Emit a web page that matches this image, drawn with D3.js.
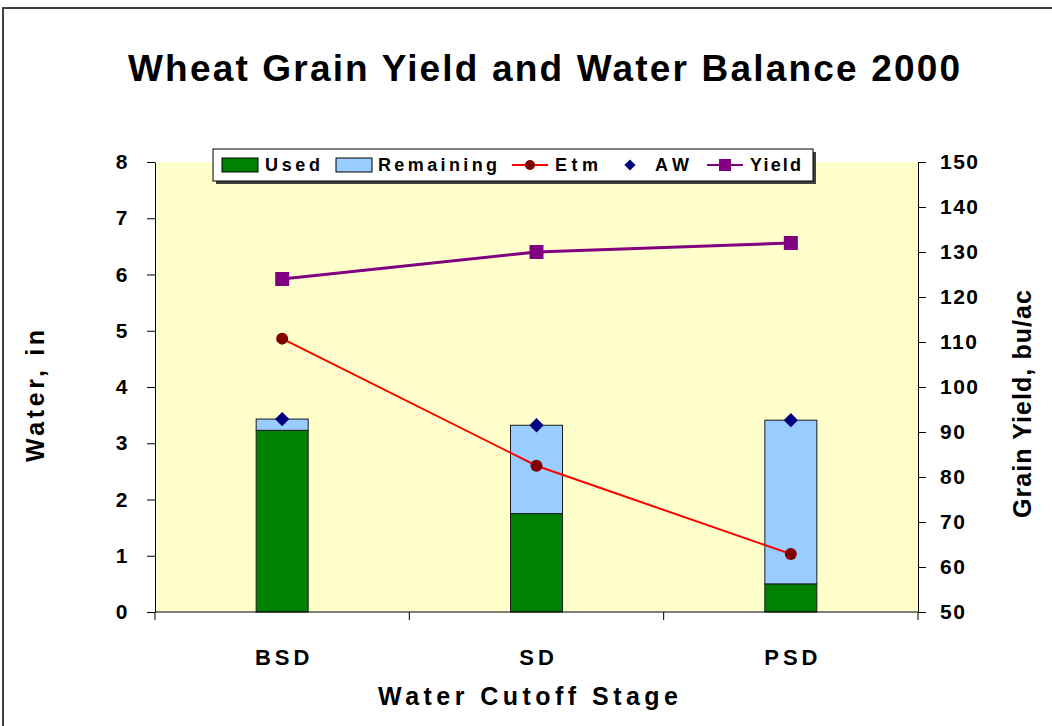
<!DOCTYPE html>
<html>
<head>
<meta charset="utf-8">
<script src="https://cdn.jsdelivr.net/npm/d3@7"></script>
<style>
  body { margin: 0; background: #fff; }
  svg { font-family: "Liberation Sans", Arial, sans-serif; font-weight: bold; }
</style>
</head>
<body>
<svg id="chart" width="1052" height="726"></svg>
<script>
// data
var stages = ["BSD", "SD", "PSD"];
var used = [3.23, 1.75, 0.50];
var remaining = [0.20, 1.57, 2.91];
var etm = [4.86, 2.60, 1.03];
var aw = [3.43, 3.32, 3.41];
var yieldBu = [124, 130, 132];
var waterTicks = [0, 1, 2, 3, 4, 5, 6, 7, 8];
var yieldTicks = [50, 60, 70, 80, 90, 100, 110, 120, 130, 140, 150];

var svg = d3.select("#chart");

var pLeft = 155, pRight = 918, pTop = 162, pBottom = 612;
var barW = 52;

var x = d3.scaleBand().domain(stages).range([pLeft, pRight]);
var yL = d3.scaleLinear().domain([0, 8]).range([pBottom, pTop]);
var yR = d3.scaleLinear().domain([50, 150]).range([pBottom, pTop]);
var cx = function(i) { return x(stages[i]) + x.bandwidth() / 2; };

// outer frame
svg.append("path")
  .attr("d", "M3,726 L3,8 L1052,8")
  .attr("fill", "none").attr("stroke", "#404040").attr("stroke-width", 2);

// title
svg.append("text")
  .attr("x", 544).attr("y", 81)
  .attr("text-anchor", "middle")
  .attr("font-size", 37)
  .attr("textLength", 832).attr("lengthAdjust", "spacing")
  .text("Wheat Grain Yield and Water Balance 2000");

// plot area
svg.append("rect")
  .attr("x", pLeft).attr("y", pTop)
  .attr("width", pRight - pLeft).attr("height", pBottom - pTop)
  .attr("fill", "#FFFFCC").attr("stroke", "none");

// stacked bars
var bars = svg.append("g");
bars.selectAll("rect.used").data(used).enter().append("rect")
  .attr("class", "used")
  .attr("x", function(d, i) { return cx(i) - barW / 2; })
  .attr("y", function(d) { return yL(d); })
  .attr("width", barW)
  .attr("height", function(d) { return yL(0) - yL(d); })
  .attr("fill", "#008000").attr("stroke", "#1a1a1a").attr("stroke-width", 1);
bars.selectAll("rect.rem").data(remaining).enter().append("rect")
  .attr("class", "rem")
  .attr("x", function(d, i) { return cx(i) - barW / 2; })
  .attr("y", function(d, i) { return yL(used[i] + d); })
  .attr("width", barW)
  .attr("height", function(d, i) { return yL(used[i]) - yL(used[i] + d); })
  .attr("fill", "#99CCFF").attr("stroke", "#1a1a1a").attr("stroke-width", 1);

// axes
var axL = svg.append("g").attr("transform", "translate(" + pLeft + ",0)")
  .call(d3.axisLeft(yL).tickValues(waterTicks).tickSize(8).tickPadding(18).tickSizeOuter(0));
var axR = svg.append("g").attr("transform", "translate(" + pRight + ",0)")
  .call(d3.axisRight(yR).tickValues(yieldTicks).tickSize(8).tickPadding(14).tickSizeOuter(0));
[axL, axR].forEach(function(a) {
  a.selectAll("text").attr("font-size", 21).attr("fill", "#000")
    .attr("font-family", "Liberation Sans, Arial, sans-serif").attr("font-weight", "bold")
    .attr("letter-spacing", "1.5px");
  a.selectAll("line").attr("stroke", "#000");
  a.select(".domain").attr("stroke", "#000");
});

// category axis: ticks at band edges, labels in the middle
var xg = svg.append("g");
xg.append("line").attr("x1", pLeft).attr("x2", pRight)
  .attr("y1", pBottom).attr("y2", pBottom).attr("stroke", "#000");
var edges = stages.map(function(s) { return x(s); }).concat([pRight]);
xg.selectAll("line.tk").data(edges).enter().append("line")
  .attr("class", "tk")
  .attr("x1", function(d) { return d; }).attr("x2", function(d) { return d; })
  .attr("y1", pBottom).attr("y2", pBottom + 8).attr("stroke", "#000");
xg.selectAll("text").data(stages).enter().append("text")
  .attr("x", function(d, i) { return cx(i) + 2; })
  .attr("y", 665)
  .attr("text-anchor", "middle")
  .attr("font-size", 22)
  .attr("letter-spacing", "4px")
  .text(function(d) { return d; });

// Etm line
var lineL = d3.line().x(function(d, i) { return cx(i); }).y(function(d) { return yL(d); });
svg.append("path").datum(etm).attr("d", lineL)
  .attr("fill", "none").attr("stroke", "#FF0000").attr("stroke-width", 2);
svg.selectAll("circle.etm").data(etm).enter().append("circle")
  .attr("class", "etm")
  .attr("cx", function(d, i) { return cx(i); })
  .attr("cy", function(d) { return yL(d); })
  .attr("r", 6).attr("fill", "#800000");

// AW diamonds
svg.selectAll("path.aw").data(aw).enter().append("path")
  .attr("class", "aw")
  .attr("d", d3.symbol().type(d3.symbolDiamond2).size(130))
  .attr("transform", function(d, i) { return "translate(" + cx(i) + "," + yL(d) + ")"; })
  .attr("fill", "#000080");

// Yield line
var lineR = d3.line().x(function(d, i) { return cx(i); }).y(function(d) { return yR(d); });
svg.append("path").datum(yieldBu).attr("d", lineR)
  .attr("fill", "none").attr("stroke", "#800080").attr("stroke-width", 3);
svg.selectAll("rect.yld").data(yieldBu).enter().append("rect")
  .attr("class", "yld")
  .attr("x", function(d, i) { return cx(i) - 7; })
  .attr("y", function(d) { return yR(d) - 7; })
  .attr("width", 14).attr("height", 14)
  .attr("fill", "#800080");

// axis titles
svg.append("text")
  .attr("transform", "translate(44,396) rotate(-90)")
  .attr("text-anchor", "middle").attr("font-size", 25)
  .attr("textLength", 132).attr("lengthAdjust", "spacing")
  .text("Water, in");
svg.append("text")
  .attr("transform", "translate(1031,404) rotate(-90)")
  .attr("text-anchor", "middle").attr("font-size", 25)
  .attr("textLength", 228).attr("lengthAdjust", "spacing")
  .text("Grain Yield, bu/ac");
svg.append("text")
  .attr("x", 528).attr("y", 705)
  .attr("text-anchor", "middle").attr("font-size", 25)
  .attr("textLength", 300).attr("lengthAdjust", "spacing")
  .text("Water Cutoff Stage");

// legend
var lg = svg.append("g");
lg.append("rect").attr("x", 216).attr("y", 152).attr("width", 600).attr("height", 32)
  .attr("fill", "#404040");
lg.append("rect").attr("x", 213).attr("y", 149).attr("width", 600).attr("height", 32)
  .attr("fill", "#fff").attr("stroke", "#000");
var ly = 165;
lg.append("rect").attr("x", 222).attr("y", ly - 7).attr("width", 36).attr("height", 14)
  .attr("fill", "#008000").attr("stroke", "#000");
lg.append("rect").attr("x", 336).attr("y", ly - 7).attr("width", 36).attr("height", 14)
  .attr("fill", "#99CCFF").attr("stroke", "#000");
lg.append("line").attr("x1", 512).attr("x2", 548).attr("y1", ly).attr("y2", ly)
  .attr("stroke", "#FF0000").attr("stroke-width", 2);
lg.append("circle").attr("cx", 530).attr("cy", ly).attr("r", 5).attr("fill", "#800000");
lg.append("path").attr("d", d3.symbol().type(d3.symbolDiamond2).size(80))
  .attr("transform", "translate(630," + ly + ")").attr("fill", "#000080");
lg.append("line").attr("x1", 707).attr("x2", 743).attr("y1", ly).attr("y2", ly)
  .attr("stroke", "#800080").attr("stroke-width", 2);
lg.append("rect").attr("x", 719).attr("y", ly - 6).attr("width", 12).attr("height", 12)
  .attr("fill", "#800080");
var legendLabels = [["Used", 265, 55], ["Remaining", 378, 119], ["Etm", 555, 43], ["AW", 655, 34], ["Yield", 750, 51]];
lg.selectAll("text").data(legendLabels).enter().append("text")
  .attr("x", function(d) { return d[1]; }).attr("y", ly + 6)
  .attr("font-size", 18)
  .attr("textLength", function(d) { return d[2]; }).attr("lengthAdjust", "spacing")
  .text(function(d) { return d[0]; });
</script>
</body>
</html>
